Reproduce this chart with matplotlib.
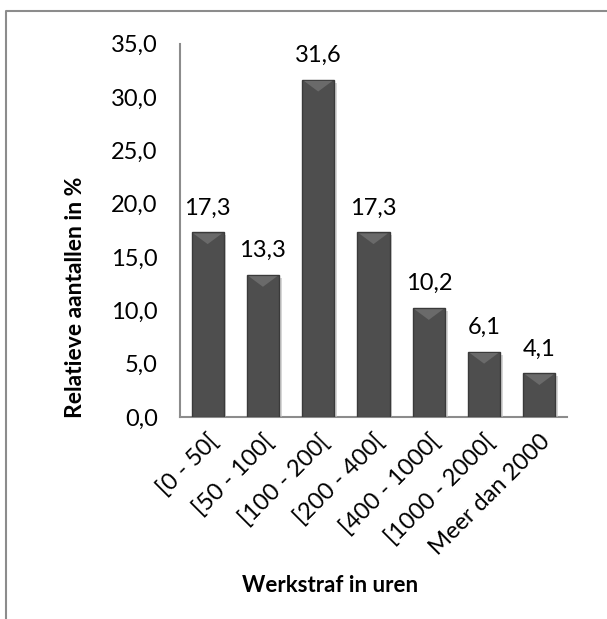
import matplotlib
matplotlib.use("Agg")
import matplotlib.pyplot as plt
import matplotlib.patheffects as pe
from matplotlib.lines import Line2D
from matplotlib.patches import Polygon

categories = ["[0 - 50[", "[50 - 100[", "[100 - 200[", "[200 - 400[",
              "[400 - 1000[", "[1000 - 2000[", "Meer dan 2000"]
values = [17.3, 13.3, 31.6, 17.3, 10.2, 6.1, 4.1]
yticks = [0, 5, 10, 15, 20, 25, 30, 35]

plt.rcParams['font.family'] = ['Lato', 'DejaVu Sans']

W, H = 607, 619
fig = plt.figure(figsize=(W / 100, H / 100), dpi=100)
ax = fig.add_axes([180 / W, 1 - 417 / H, 387 / W, 373.5 / H])

x = range(len(values))
bars = ax.bar(x, values, width=0.58, color="#4e4e4e", edgecolor="#3a3a3a",
              linewidth=1.0, zorder=3)
for b in bars:
    b.set_path_effects([pe.SimplePatchShadow(offset=(2, -2), shadow_rgbFace="#bbbbbb", alpha=0.6),
                        pe.Normal()])
    # light bevel on top of each bar
    x0, w, top = b.get_x(), b.get_width(), b.get_height()
    bevel = Polygon([(x0 + 0.03, top - 0.1), (x0 + w - 0.03, top - 0.1),
                     (x0 + w / 2, top - 1.1)], closed=True,
                    facecolor="#6a6a6a", edgecolor="none", zorder=4)
    ax.add_patch(bevel)

for i, v in enumerate(values):
    ax.text(i, v + 1.3, f"{v:.1f}".replace(".", ","), ha="center", va="bottom",
            fontsize=17, color="black")

ax.set_xlim(-0.5, len(values) - 0.5)
ax.set_ylim(0, 35)
ax.set_yticks(yticks)
ax.set_yticklabels([f"{t:.1f}".replace(".", ",") for t in yticks], fontsize=17)
ax.set_xticks(list(x))
ax.set_xticklabels(categories, rotation=45, ha="right", rotation_mode="anchor", fontsize=17)
ax.tick_params(axis="y", length=0, pad=16)
ax.tick_params(axis="x", length=0, pad=10)

for s in ["top", "right"]:
    ax.spines[s].set_visible(False)
ax.spines["left"].set_color("#8c8c8c")
ax.spines["left"].set_linewidth(1.5)
ax.spines["bottom"].set_color("#8c8c8c")
ax.spines["bottom"].set_linewidth(1.5)

fig.text(75 / W, 1 - 297 / H, "Relatieve aantallen in %", fontsize=16.5, fontweight="bold",
         rotation=90, ha="center", va="center")
fig.text(330 / W, 1 - 585 / H, "Werkstraf in uren", fontsize=16, fontweight="bold",
         ha="center", va="center")

# outer chart border (left and top visible)
fig.add_artist(Line2D([5.5 / W, 5.5 / W, 1.0], [0.0, 1 - 10.5 / H, 1 - 10.5 / H],
                      transform=fig.transFigure, color="#8c8c8c", linewidth=1.5))

fig.savefig("out.png", dpi=100)
